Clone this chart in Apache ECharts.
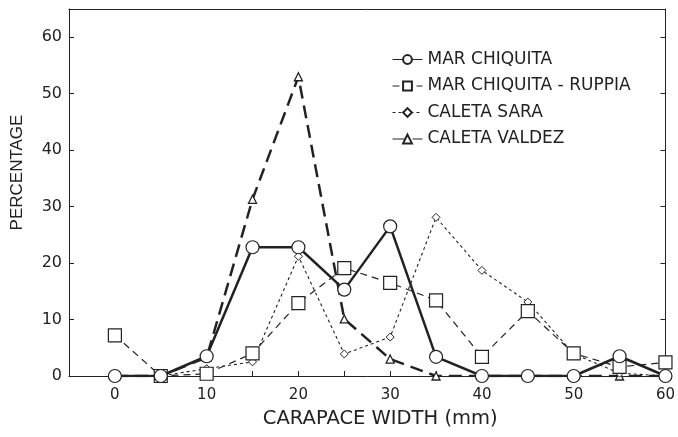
<!DOCTYPE html>
<html>
<head>
<meta charset="utf-8">
<script src="https://cdn.jsdelivr.net/npm/echarts@6/dist/echarts.min.js"></script>
<style>
  html, body { margin: 0; padding: 0; background: #fff; }
  #chart { width: 678px; height: 437px; }
</style>
</head>
<body>
<div id="chart"></div>
<script>
// carapace width classes (mm)
var widths = [0, 5, 10, 15, 20, 25, 30, 35, 40, 45, 50, 55, 60];
var seriesNames = ['MAR CHIQUITA', 'MAR CHIQUITA - RUPPIA', 'CALETA SARA', 'CALETA VALDEZ'];
// percentages
var marChiquita = [0, 0, 3.5, 22.8, 22.8, 15.3, 26.5, 3.4, 0, 0, 0, 3.5, 0];
var ruppia      = [7.2, 0, 0.4, 4.0, 12.9, 19.1, 16.5, 13.4, 3.4, 11.5, 4.0, 1.6, 2.4];
var caletaSara  = [0, 0, 1.3, 2.5, 21.2, 3.9, 6.9, 28.1, 18.7, 13.1, 3.9, 0.5, 0];
var caletaValdez = [0, 0, 3.3, 31.3, 53.0, 10.1, 3.0, 0, 0, 0, 0, 0, 0];
var xTicks = [0, 10, 20, 30, 40, 50, 60];
var yTicks = [0, 10, 20, 30, 40, 50, 60];

function pairs(vals) {
  return widths.map(function (w, i) { return [w, vals[i]]; });
}

var ink = '#222';
var wide = 'DejaVu Sans';
var chart = echarts.init(document.getElementById('chart'));

var option = {
  backgroundColor: '#fff',
  animation: false,
  textStyle: { fontFamily: wide },
  grid: { left: 69, right: 11, top: 9, bottom: 61 },
  legend: {
    orient: 'vertical',
    left: 387,
    top: 46,
    itemWidth: 30,
    itemHeight: 11,
    itemGap: 9.5,
    data: seriesNames,
    lineStyle: { width: 1 },
    textStyle: { fontSize: 17, color: ink, lineHeight: 17, fontFamily: wide }
  },
  xAxis: [
    {
      type: 'value',
      min: -5,
      max: 60,
      interval: 5,
      name: 'CARAPACE WIDTH (mm)',
      nameLocation: 'middle',
      nameGap: 33,
      nameTextStyle: { fontSize: 19.5, color: ink, fontFamily: wide, padding: [0, 0, 0, 26] },
      axisLine: { onZero: false, lineStyle: { color: ink, width: 1 } },
      axisTick: { inside: true, length: 5, lineStyle: { color: ink } },
      axisLabel: {
        fontSize: 15, color: ink, margin: 12,
        formatter: function (v) { return xTicks.indexOf(v) >= 0 ? String(v) : ''; }
      },
      splitLine: { show: false }
    },
    {
      type: 'value',
      position: 'top',
      min: -5,
      max: 60,
      axisLine: { onZero: false, lineStyle: { color: ink, width: 1 } },
      axisTick: { show: false },
      axisLabel: { show: false },
      splitLine: { show: false }
    }
  ],
  yAxis: [
    {
      type: 'value',
      min: 0,
      max: 65,
      interval: 10,
      name: 'PERCENTAGE',
      nameLocation: 'middle',
      nameGap: 43,
      nameTextStyle: { fontSize: 17, color: ink, fontFamily: 'Liberation Sans', padding: [0, 0, 0, 40] },
      axisLine: { show: true, onZero: false, lineStyle: { color: ink, width: 1 } },
      axisTick: { show: true, inside: true, length: 5, lineStyle: { color: ink } },
      axisLabel: {
        fontSize: 16, color: ink, margin: 7,
        formatter: function (v) { return yTicks.indexOf(v) >= 0 ? String(v) : ''; }
      },
      splitLine: { show: false }
    },
    {
      type: 'value',
      position: 'right',
      min: 0,
      max: 65,
      interval: 10,
      axisLine: { show: true, onZero: false, lineStyle: { color: ink, width: 1 } },
      axisTick: { show: true, inside: true, length: 5, lineStyle: { color: ink } },
      axisLabel: { show: false },
      splitLine: { show: false }
    }
  ],
  series: [
    {
      name: seriesNames[3],
      type: 'line',
      data: pairs(caletaValdez),
      symbol: 'triangle',
      symbolSize: 8,
      lineStyle: { color: ink, width: 2.5, type: [13, 7] },
      itemStyle: { color: '#fff', borderColor: ink, borderWidth: 1.3 },
      z: 2
    },
    {
      name: seriesNames[2],
      type: 'line',
      data: pairs(caletaSara),
      symbol: 'diamond',
      symbolSize: 8,
      lineStyle: { color: ink, width: 1.1, type: [3, 3] },
      itemStyle: { color: '#fff', borderColor: ink, borderWidth: 1 },
      z: 3
    },
    {
      name: seriesNames[1],
      type: 'line',
      data: pairs(ruppia),
      symbol: 'rect',
      symbolSize: 13,
      lineStyle: { color: ink, width: 1.2, type: [7, 5] },
      itemStyle: { color: '#fff', borderColor: ink, borderWidth: 1.2 },
      z: 4
    },
    {
      name: seriesNames[0],
      type: 'line',
      data: pairs(marChiquita),
      symbol: 'circle',
      symbolSize: 13,
      lineStyle: { color: ink, width: 2.5 },
      itemStyle: { color: '#fff', borderColor: ink, borderWidth: 1.2 },
      z: 5
    }
  ]
};

chart.setOption(option);
</script>
</body>
</html>
